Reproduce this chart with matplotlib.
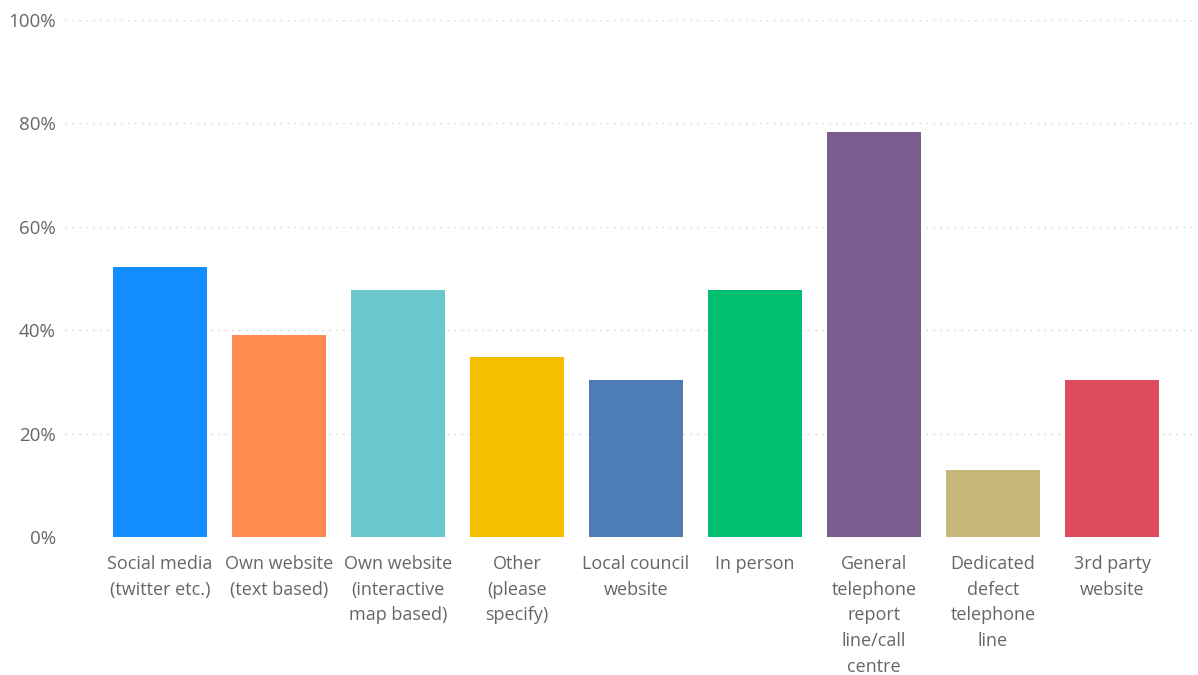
import matplotlib
matplotlib.use("Agg")
import matplotlib.pyplot as plt
from matplotlib.ticker import PercentFormatter

categories = ["Social media\n(twitter etc.)", "Own website\n(text based)",
              "Own website\n(interactive\nmap based)", "Other\n(please\nspecify)",
              "Local council\nwebsite", "In person",
              "General\ntelephone\nreport\nline/call\ncentre",
              "Dedicated\ndefect\ntelephone\nline", "3rd party\nwebsite"]
values = [52.2, 39.1, 47.8, 34.8, 30.4, 47.8, 78.3, 13.0, 30.4]
colors = ["#118DFF", "#FF8B50", "#6BC8CC", "#F6BE00", "#4E7CB5",
          "#00BF6F", "#7B5E8F", "#C7B77A", "#DC4C5C"]
yticks = [0, 20, 40, 60, 80, 100]

plt.rcParams['font.family'] = ['Open Sans', 'DejaVu Sans']
fig = plt.figure(figsize=(11.98, 6.75), dpi=100)
ax = fig.add_axes([65/1198, 1-537/675, 1130/1198, 517/675])
x = list(range(len(categories)))
ax.bar(x, values, width=0.79, color=colors, zorder=2)
ax.set_xlim((65-160)/119, (1195-160)/119)
ax.set_ylim(0, 100)
ax.set_yticks(yticks)
ax.yaxis.set_major_formatter(PercentFormatter(decimals=0))
ax.set_xticks(x)
ax.set_xticklabels(categories, linespacing=1.55)
ax.grid(axis='y', linestyle=(0, (1, 4)), color='#D0D0D0', linewidth=1, zorder=0)
for s in ax.spines.values():
    s.set_visible(False)
ax.tick_params(axis='both', length=0, colors='#666666')
ax.tick_params(axis='x', pad=13, labelsize=13)
ax.tick_params(axis='y', pad=6.5, labelsize=13.5)
fig.savefig("out.png", dpi=100)
